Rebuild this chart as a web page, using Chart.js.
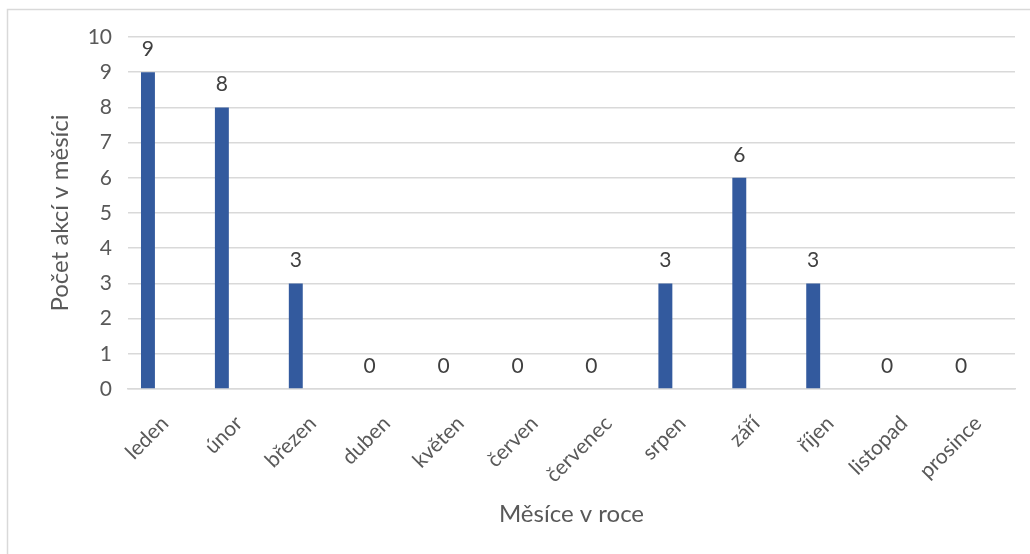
<!DOCTYPE html>
<html lang="cs">
<head>
<meta charset="utf-8">
<title>Počet akcí v měsíci</title>
<script src="https://cdn.jsdelivr.net/npm/chart.js@4/dist/chart.umd.min.js"></script>
<style>
  html, body { margin: 0; padding: 0; background: #fff; }
  #wrap { width: 1030px; height: 554px; position: relative; }
</style>
</head>
<body>
<div id="wrap"><canvas id="c" width="1030" height="554"></canvas></div>
<script>
// Měsíce a počty akcí
const months = ['leden', 'únor', 'březen', 'duben', 'květen', 'červen',
                'červenec', 'srpen', 'září', 'říjen', 'listopad', 'prosince'];
const eventCounts = [9, 8, 3, 0, 0, 0, 0, 3, 6, 3, 0, 0];
const yTicks = [0, 1, 2, 3, 4, 5, 6, 7, 8, 9, 10];

const FONT = 'Lato, "Open Sans", sans-serif';
const TEXT = '#595959';
const GRID = '#d9d9d9';

// Frame around the chart (top and left edges are visible)
const framePlugin = {
  id: 'frame',
  beforeDraw(chart) {
    const ctx = chart.ctx;
    ctx.save();
    ctx.fillStyle = '#fff';
    ctx.fillRect(0, 0, chart.width, chart.height);
    ctx.strokeStyle = GRID;
    ctx.lineWidth = 1.5;
    ctx.beginPath();
    ctx.moveTo(7.5, chart.height);
    ctx.lineTo(7.5, 9.5);
    ctx.lineTo(chart.width, 9.5);
    ctx.stroke();
    ctx.restore();
  }
};

// Value labels above each bar
const valueLabels = {
  id: 'valueLabels',
  afterDatasetsDraw(chart) {
    const ctx = chart.ctx;
    const meta = chart.getDatasetMeta(0);
    ctx.save();
    ctx.font = '21px ' + FONT;
    ctx.fillStyle = '#404040';
    ctx.textAlign = 'center';
    ctx.textBaseline = 'middle';
    meta.data.forEach((bar, i) => {
      ctx.fillText(String(eventCounts[i]), bar.x, bar.y - 23);
    });
    ctx.restore();
  }
};

new Chart(document.getElementById('c'), {
  type: 'bar',
  data: {
    labels: months,
    datasets: [
      {
        label: 'Počet akcí',
        data: eventCounts,
        backgroundColor: '#335a9e',
        borderWidth: 0,
        barPercentage: 0.41,
        categoryPercentage: 0.92
      },
      {
        label: '',
        data: [],
        backgroundColor: 'rgba(0,0,0,0)',
        barPercentage: 0.41,
        categoryPercentage: 0.92
      }
    ]
  },
  options: {
    responsive: false,
    animation: false,
    devicePixelRatio: 1,
    layout: { padding: { left: 0, top: 37, right: 15, bottom: 0 } },
    plugins: {
      legend: { display: false },
      tooltip: { enabled: false },
      title: { display: false }
    },
    scales: {
      x: {
        grid: { display: false, drawTicks: false },
        border: { display: true, color: GRID, width: 1.5 },
        ticks: {
          color: TEXT,
          font: { family: FONT, size: 21 },
          minRotation: 45,
          maxRotation: 45,
          autoSkip: false,
          padding: 22
        },
        title: {
          display: true,
          text: 'Měsíce v roce',
          color: TEXT,
          font: { family: FONT, size: 24 },
          padding: { top: 0, bottom: 25 }
        },
        afterFit(scale) { scale.height = 165; }
      },
      y: {
        min: 0,
        max: 10,
        afterBuildTicks(scale) { scale.ticks = yTicks.map(v => ({ value: v })); },
        grid: { color: GRID, lineWidth: 1.5, drawTicks: false },
        border: { display: false },
        ticks: {
          color: TEXT,
          font: { family: FONT, size: 21 },
          padding: 16
        },
        title: {
          display: true,
          text: 'Počet akcí v měsíci',
          color: TEXT,
          font: { family: FONT, size: 24 },
          padding: { top: 46, bottom: 0 }
        },
        afterFit(scale) { scale.width = 128; }
      }
    }
  },
  plugins: [framePlugin, valueLabels]
});
</script>
</body>
</html>
